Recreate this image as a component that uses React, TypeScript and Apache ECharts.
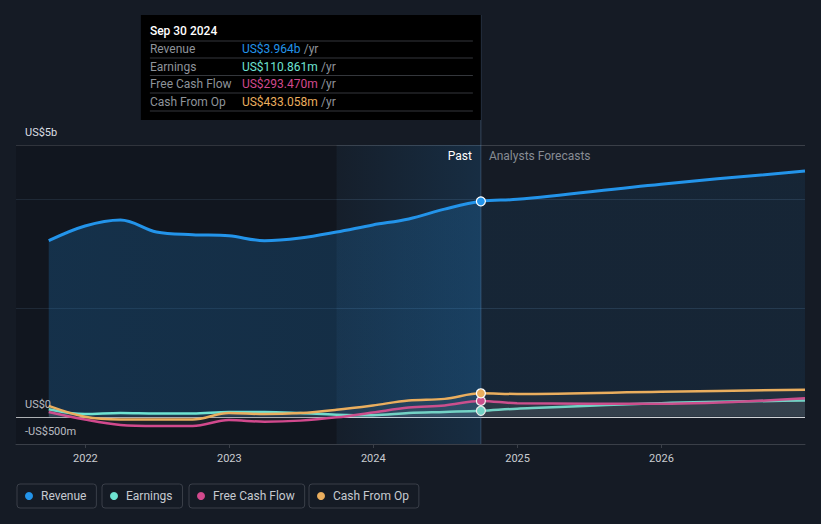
import { useEffect, useRef } from 'react';
import * as echarts from 'echarts';

const dates = [
  '2021-09-30', '2021-12-31', '2022-03-31', '2022-06-30', '2022-09-30', '2022-12-31',
  '2023-03-31', '2023-06-30', '2023-09-30', '2023-12-31', '2024-03-31', '2024-06-30',
  '2024-09-30', '2024-12-31', '2025-12-31', '2026-12-31',
];
// values in US$ billions
const revenue = [3.24, 3.51, 3.62, 3.40, 3.35, 3.33, 3.24, 3.29, 3.40, 3.53, 3.64, 3.82, 3.964, 4.00, 4.28, 4.52];
const earnings = [0.14, 0.05, 0.07, 0.06, 0.06, 0.09, 0.09, 0.07, 0.04, 0.03, 0.07, 0.09, 0.111, 0.15, 0.25, 0.30];
const freeCashFlow = [0.09, -0.05, -0.15, -0.17, -0.17, -0.06, -0.09, -0.07, -0.01, 0.08, 0.17, 0.21, 0.293, 0.25, 0.24, 0.34];
const cashFromOp = [0.20, 0.0, -0.05, -0.05, -0.05, 0.07, 0.05, 0.07, 0.13, 0.21, 0.30, 0.33, 0.433, 0.42, 0.46, 0.50];

const seriesNames = ['Revenue', 'Earnings', 'Free Cash Flow', 'Cash From Op'];
const seriesColors = ['#2394ea', '#6ee3d2', '#d2498d', '#eaae5e'];
const tooltipValues = ['US$3.964b', 'US$110.861m', 'US$293.470m', 'US$433.058m'];
const tooltipDate = 'Sep 30 2024';
const pastDate = '2024-09-30';
const shadeStart = '2023-09-30';
const axisMin = '2021-07-09';
const axisMax = '2026-12-31';
const yearTicks = ['2022-01-01', '2023-01-01', '2024-01-01', '2025-01-01', '2026-01-01'];
const yLabelValues = [-0.5, 0, 5];

const toTs = (s: string) => {
  const [y, m, d] = s.split('-').map(Number);
  return Date.UTC(y, m - 1, d);
};

const FONT = 'Roboto, "Noto Sans", sans-serif';

export default function App() {
  const ref = useRef<HTMLDivElement>(null);
  useEffect(() => {
    const chart = echarts.init(ref.current!, null, { renderer: 'svg' });
    const pastTs = toTs(pastDate);
    const allSeries = [revenue, earnings, freeCashFlow, cashFromOp];
    const pastIdx = dates.indexOf(pastDate);

    const mkData = (vals: number[], i: number) =>
      vals.map((v, k) => {
        const item: any = { value: [toTs(dates[k]), v] };
        if (k === pastIdx) {
          item.symbol = 'circle';
          item.symbolSize = 9;
          item.itemStyle = { color: seriesColors[i], borderColor: '#ffffff', borderWidth: 1.2 };
        }
        return item;
      });

    const series: any[] = allSeries.map((vals, i) => ({
      name: seriesNames[i],
      type: 'line',
      data: mkData(vals, i),
      smooth: 0.35,
      symbol: 'none',
      showSymbol: true,
      showAllSymbol: true,
      lineStyle: { color: seriesColors[i], width: i === 0 ? 3 : 2.5 },
      itemStyle: { color: seriesColors[i] },
      areaStyle:
        i === 0
          ? {
              color: new echarts.graphic.LinearGradient(1, 0, 0, 0, [
                { offset: 0, color: 'rgba(35,148,234,0.12)' },
                { offset: 0.427, color: 'rgba(35,148,234,0.12)' },
                { offset: 0.43, color: 'rgba(35,148,234,0.26)' },
                { offset: 1, color: 'rgba(35,148,234,0.3)' },
              ]),
            }
          : { color: 'rgba(140,140,140,0.14)' },
      z: 2 + i,
    }));

    series[0].markArea = {
      silent: true,
      data: [
        [
          { xAxis: toTs(axisMin), itemStyle: { color: 'rgba(0,0,0,0.16)' } },
          { xAxis: toTs(shadeStart) },
        ],
        [
          {
            xAxis: toTs(shadeStart),
            itemStyle: {
              color: new echarts.graphic.LinearGradient(0, 0, 1, 0, [
                { offset: 0, color: 'rgba(35,148,234,0.03)' },
                { offset: 1, color: 'rgba(35,148,234,0.15)' },
              ]),
            },
          },
          { xAxis: pastTs },
        ],
      ],
    };

    const t = 'transparent';
    const splitColors = ['#3a3f48', '#cfd2d6', t, t, t, '#263241', t, t, t, '#263241', t, '#3a3f48'];

    const legends = seriesNames.map((name, i) => ({
      data: [{ name, icon: 'circle' }],
      left: [17, 102, 189, 309][i],
      top: 484,
      orient: 'horizontal',
      selectedMode: false,
      itemWidth: 14,
      itemHeight: 8,
      padding: [6, 10, 6, 8],
      borderColor: '#3a3f49',
      borderWidth: 1,
      borderRadius: 3,
      textStyle: { color: '#c6cad0', fontSize: 12, fontFamily: FONT },
    }));

    chart.setOption({
      animation: false,
      backgroundColor: '#151b25',
      textStyle: { fontFamily: FONT },
      grid: { left: 16, right: 16, top: 145, bottom: 80, containLabel: false },
      legend: legends,
      xAxis: {
        type: 'value',
        min: toTs(axisMin),
        max: toTs(axisMax),
        axisLine: { show: true, onZero: false, lineStyle: { color: '#3a3f48', width: 1 } },
        axisTick: {
          show: true,
          customValues: yearTicks.map(toTs),
          length: 4,
          lineStyle: { color: '#3a3f48' },
        },
        axisLabel: {
          customValues: yearTicks.map(toTs),
          formatter: (v: number) => String(new Date(v).getUTCFullYear()),
          color: '#c9ccd1',
          fontSize: 11,
          margin: 9,
          fontFamily: FONT,
        },
        splitLine: { show: false },
      },
      yAxis: {
        type: 'value',
        min: -0.5,
        max: 5,
        interval: 0.5,
        axisLine: { show: false },
        axisTick: { show: false },
        axisLabel: {
          inside: true,
          customValues: yLabelValues,
          margin: 9,
          verticalAlign: 'bottom',
          padding: [0, 0, 7, 0],
          color: '#dcdfe3',
          fontSize: 11,
          fontFamily: FONT,
          formatter: (v: number) => {
            if (v === 0) return 'US$0';
            if (v < 0) return '-US$' + Math.round(-v * 1000) + 'm';
            return 'US$' + v + 'b';
          },
        },
        splitLine: { show: true, lineStyle: { color: splitColors, width: 1 } },
      },
      series,
    });

    const px = chart.convertToPixel({ xAxisIndex: 0 }, pastTs) as number;
    const bottomY = chart.convertToPixel({ yAxisIndex: 0 }, -0.5) as number;
    const topY = chart.convertToPixel({ yAxisIndex: 0 }, 5) as number;
    const boxW = 340;
    const boxL = px - boxW;
    const boxTop = 15;
    const rowYs = [49, 66.5, 84, 101.5];
    const sepYs = [41, 58, 75.5, 93, 111];
    const graphic: any[] = [
      {
        type: 'line',
        z: 1,
        shape: { x1: px, y1: boxTop, x2: px, y2: bottomY },
        style: { stroke: 'rgba(110,150,190,0.35)', lineWidth: 1 },
        silent: true,
      },
      {
        type: 'rect',
        z: 50,
        shape: { x: boxL, y: boxTop, width: boxW, height: 105 },
        style: { fill: '#000000' },
        silent: true,
      },
      {
        type: 'text',
        z: 51,
        x: boxL + 9,
        y: 31,
        style: {
          text: tooltipDate,
          fill: '#ffffff',
          font: `500 12px ${FONT}`,
          verticalAlign: 'middle',
        },
      },
      ...sepYs.map((y) => ({
        type: 'line',
        z: 51,
        shape: { x1: boxL + 9, y1: y, x2: px - 8, y2: y },
        style: { stroke: '#34373c', lineWidth: 1 },
        silent: true,
      })),
      ...seriesNames.map((n, i) => ({
        type: 'text',
        z: 51,
        x: boxL + 9,
        y: rowYs[i],
        style: { text: n, fill: '#8e939a', font: `12px ${FONT}`, verticalAlign: 'middle' },
      })),
      ...tooltipValues.map((v, i) => ({
        type: 'text',
        z: 51,
        x: boxL + 101,
        y: rowYs[i],
        style: {
          text: `{v|${v}} {u|/yr}`,
          verticalAlign: 'middle',
          rich: {
            v: { fill: seriesColors[i], font: `12px ${FONT}` },
            u: { fill: '#8e939a', font: `12px ${FONT}` },
          },
        },
      })),
      {
        type: 'text',
        z: 51,
        x: px - 9,
        y: topY + 11,
        style: { text: 'Past', fill: '#ffffff', font: `12px ${FONT}`, align: 'right', verticalAlign: 'middle' },
      },
      {
        type: 'text',
        z: 51,
        x: px + 8,
        y: topY + 11,
        style: { text: 'Analysts Forecasts', fill: '#878c94', font: `12px ${FONT}`, align: 'left', verticalAlign: 'middle' },
      },
    ];
    chart.setOption({ graphic });

    return () => chart.dispose();
  }, []);
  return <div ref={ref} style={{ position: 'absolute', left: 0, top: 0, width: 821, height: 524 }} />;
}
